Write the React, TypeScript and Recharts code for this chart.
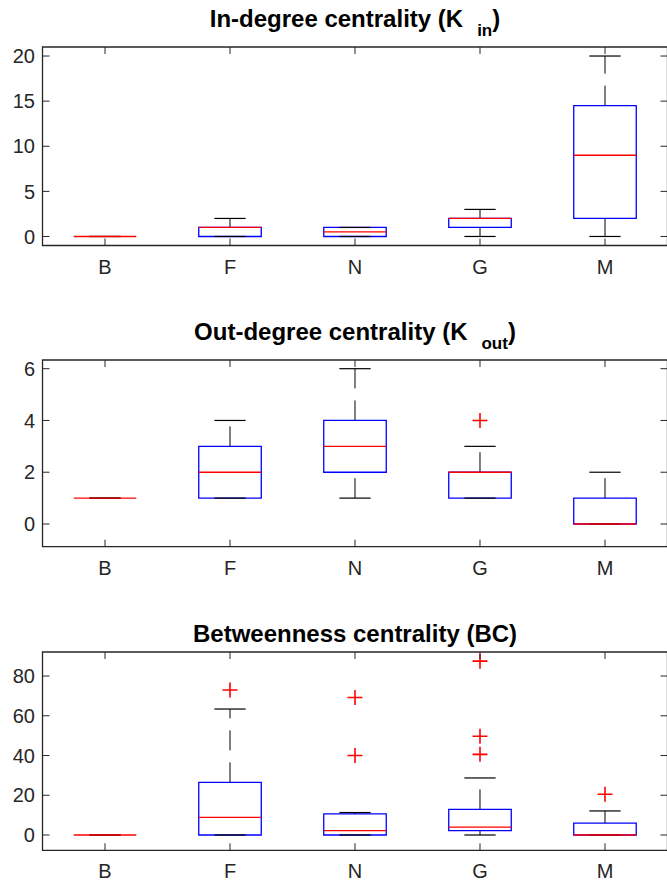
import React from "react";
import {
  ComposedChart,
  XAxis,
  YAxis,
  Scatter,
  ReferenceLine,
  ReferenceArea,
} from "recharts";

const groups = ["B", "F", "N", "G", "M"];

// In-degree
const kinLo = [0, 0, 0, 0, 0];
const kinQ1 = [0, 0, 0, 1, 2];
const kinMed = [0, 1, 0.5, 2, 9];
const kinQ3 = [0, 1, 1, 2, 14.5];
const kinHi = [0, 2, 1, 3, 20];
const kinOut: number[][] = [[], [], [], [], []];
const kinTicks = [0, 5, 10, 15, 20];

// Out-degree
const koutLo = [1, 1, 1, 1, 0];
const koutQ1 = [1, 1, 2, 1, 0];
const koutMed = [1, 2, 3, 2, 0];
const koutQ3 = [1, 3, 4, 2, 1];
const koutHi = [1, 4, 6, 3, 2];
const koutOut: number[][] = [[], [], [], [4], []];
const koutTicks = [0, 2, 4, 6];

// Betweenness
const bcLo = [0, 0, 0, 0, 0];
const bcQ1 = [0, 0, 0, 2.2, 0];
const bcMed = [0, 8.9, 2.2, 4, 0];
const bcQ3 = [0, 26.5, 10.6, 12.9, 6];
const bcHi = [0, 63.4, 11.3, 28.7, 12.1];
const bcOut: number[][] = [[], [73], [69.2, 40], [87.5, 49.7, 40.6], [20.5]];
const bcTicks = [0, 20, 40, 60, 80];

const PLOT_L = 42.5;
const PLOT_R = 667.5;
const CHART_W = 680;
const PAD_TOP = 16;
const AX = "#262626";
const FONT = "'Liberation Sans', Arial, Helvetica, sans-serif";

type Stats = {
  lo: number[];
  q1: number[];
  med: number[];
  q3: number[];
  hi: number[];
  out: number[][];
};

function BoxPanel({
  stats,
  ticks,
  domain,
  top,
  bottom,
}: {
  stats: Stats;
  ticks: number[];
  domain: [number, number];
  top: number;
  bottom: number;
}) {
  const plotH = bottom - top;
  const outliers = stats.out.flatMap((vals, i) => vals.map((v) => ({ x: i + 1, y: v })));

  const yTick = (p: any) => (
    <g>
      <line x1={PLOT_L} x2={PLOT_L + 7} y1={p.y} y2={p.y} stroke={AX} strokeWidth={1} />
      <line x1={PLOT_R - 7} x2={PLOT_R} y1={p.y} y2={p.y} stroke={AX} strokeWidth={1} />
      <text x={35} y={p.y} dy="0.36em" textAnchor="end" fill={AX} fontSize={20} fontFamily={FONT}>
        {p.payload.value}
      </text>
    </g>
  );

  const xTick = (p: any) => (
    <g>
      <line x1={p.x} x2={p.x} y1={PAD_TOP} y2={PAD_TOP + 7} stroke={AX} strokeWidth={1} />
      <line x1={p.x} x2={p.x} y1={PAD_TOP + plotH - 7} y2={PAD_TOP + plotH} stroke={AX} strokeWidth={1} />
      <text x={p.x} y={PAD_TOP + plotH + 28} textAnchor="middle" fill={AX} fontSize={20} fontFamily={FONT}>
        {groups[p.payload.value - 1]}
      </text>
    </g>
  );

  return (
    <div style={{ position: "absolute", left: 0, top: top - PAD_TOP }}>
      <ComposedChart
        width={CHART_W}
        height={plotH + 40 + PAD_TOP}
        margin={{ top: PAD_TOP, right: CHART_W - PLOT_R, bottom: 0, left: 0 }}
      >
        <XAxis
          type="number"
          dataKey="x"
          domain={[0.5, 5.5]}
          ticks={[1, 2, 3, 4, 5]}
          allowDataOverflow
          axisLine={false}
          tickLine={false}
          height={40}
          tick={xTick}
          interval={0}
        />
        <YAxis
          type="number"
          dataKey="y"
          domain={domain}
          ticks={ticks}
          allowDataOverflow
          axisLine={false}
          tickLine={false}
          width={PLOT_L}
          tick={yTick}
          interval={0}
        />
        <ReferenceArea
          x1={0.5}
          x2={5.5}
          y1={domain[0]}
          y2={domain[1]}
          fill="none"
          stroke={AX}
          strokeWidth={1.3}
          ifOverflow="visible"
        />
        {groups.map((g, i) => (
          <ReferenceLine
            key={"uw" + g}
            segment={[
              { x: i + 1, y: stats.q3[i] },
              { x: i + 1, y: stats.hi[i] },
            ]}
            stroke="#000"
            strokeWidth={1}
            strokeDasharray="20 12"
            ifOverflow="visible"
          />
        ))}
        {groups.map((g, i) => (
          <ReferenceLine
            key={"lw" + g}
            segment={[
              { x: i + 1, y: stats.lo[i] },
              { x: i + 1, y: stats.q1[i] },
            ]}
            stroke="#000"
            strokeWidth={1}
            strokeDasharray="20 12"
            ifOverflow="visible"
          />
        ))}
        {groups.map((g, i) => (
          <ReferenceLine
            key={"uc" + g}
            segment={[
              { x: i + 0.875, y: stats.hi[i] },
              { x: i + 1.125, y: stats.hi[i] },
            ]}
            stroke="#000"
            strokeWidth={1.2}
            ifOverflow="visible"
          />
        ))}
        {groups.map((g, i) => (
          <ReferenceLine
            key={"lc" + g}
            segment={[
              { x: i + 0.875, y: stats.lo[i] },
              { x: i + 1.125, y: stats.lo[i] },
            ]}
            stroke="#000"
            strokeWidth={1.2}
            ifOverflow="visible"
          />
        ))}
        {groups.map((g, i) => (
          <ReferenceArea
            key={"box" + g}
            x1={i + 0.75}
            x2={i + 1.25}
            y1={stats.q1[i]}
            y2={stats.q3[i]}
            fill="none"
            fillOpacity={0}
            stroke="#0000ff"
            strokeWidth={1.3}
            strokeOpacity={1}
            ifOverflow="visible"
          />
        ))}
        {groups.map((g, i) => (
          <ReferenceLine
            key={"med" + g}
            segment={[
              { x: i + 0.75, y: stats.med[i] },
              { x: i + 1.25, y: stats.med[i] },
            ]}
            stroke="#ff0000"
            strokeWidth={1.3}
            ifOverflow="visible"
          />
        ))}
        <Scatter
          data={outliers}
          isAnimationActive={false}
          shape={(p: any) => (
            <g>
              <line x1={p.cx - 7.5} x2={p.cx + 7.5} y1={p.cy} y2={p.cy} stroke="#ff0000" strokeWidth={1.6} />
              <line x1={p.cx} x2={p.cx} y1={p.cy - 7.5} y2={p.cy + 7.5} stroke="#ff0000" strokeWidth={1.6} />
            </g>
          )}
        />
      </ComposedChart>
    </div>
  );
}

export default function App() {
  return (
    <div
      style={{
        position: "absolute",
        left: 0,
        top: 0,
        width: 667,
        height: 882,
        overflow: "hidden",
        background: "#fff",
      }}
    >
      <BoxPanel
        stats={{ lo: kinLo, q1: kinQ1, med: kinMed, q3: kinQ3, hi: kinHi, out: kinOut }}
        ticks={kinTicks}
        domain={[-1, 21]}
        top={46.5}
        bottom={245}
      />
      <BoxPanel
        stats={{ lo: koutLo, q1: koutQ1, med: koutMed, q3: koutQ3, hi: koutHi, out: koutOut }}
        ticks={koutTicks}
        domain={[-0.877, 6.336]}
        top={360}
        bottom={546.7}
      />
      <BoxPanel
        stats={{ lo: bcLo, q1: bcQ1, med: bcMed, q3: bcQ3, hi: bcHi, out: bcOut }}
        ticks={bcTicks}
        domain={[-7.7, 92.1]}
        top={651.7}
        bottom={850}
      />
      <svg
        width={667}
        height={882}
        style={{ position: "absolute", left: 0, top: 0, pointerEvents: "none" }}
        fontFamily={FONT}
        fontWeight="bold"
        fill="#000"
      >
        <text x={355} y={27} textAnchor="middle" fontSize={24}>
          In-degree centrality (K
          <tspan fontSize={17} dx={14} dy={9}>in</tspan>
          <tspan dy={-9}>)</tspan>
        </text>
        <text x={355} y={340} textAnchor="middle" fontSize={24}>
          Out-degree centrality (K
          <tspan fontSize={17} dx={14} dy={9}>out</tspan>
          <tspan dy={-9}>)</tspan>
        </text>
        <text x={355} y={641.5} textAnchor="middle" fontSize={24}>
          Betweenness centrality (BC)
        </text>
      </svg>
    </div>
  );
}
